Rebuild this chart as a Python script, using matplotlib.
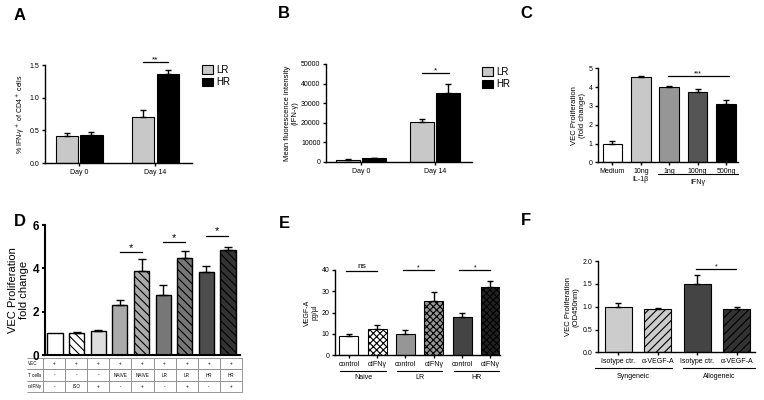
import matplotlib
matplotlib.use("Agg")
import matplotlib.pyplot as plt
from matplotlib.patches import Patch
import numpy as np

plt.rcParams['font.family'] = ['Liberation Sans', 'DejaVu Sans']
plt.rcParams['hatch.linewidth'] = 0.8

# ---- panel A: % IFN-g+ of CD4+ cells
a_groups = ["Day 0", "Day 14"]
a_lr = [0.41, 0.71]
a_lr_err = [0.05, 0.10]
a_hr = [0.43, 1.36]
a_hr_err = [0.05, 0.07]

# ---- panel B: MFI IFN-g
b_groups = ["Day 0", "Day 14"]
b_lr = [1200, 20300]
b_lr_err = [300, 1800]
b_hr = [1800, 35400]
b_hr_err = [300, 4200]

# ---- panel C: VEC proliferation vs stimulus
c_labels = ["Medium", "10ng\nIL-1β", "1ng", "100ng", "500ng"]
c_vals = [1.0, 4.53, 4.02, 3.76, 3.13]
c_err = [0.16, 0.04, 0.07, 0.13, 0.17]
c_colors = ["white", "#c8c8c8", "#969696", "#555555", "black"]

# ---- panel D: VEC proliferation with T cells
d_vals = [1.0, 1.0, 1.1, 2.31, 3.88, 2.75, 4.46, 3.82, 4.85]
d_err = [0.0, 0.07, 0.07, 0.23, 0.54, 0.48, 0.34, 0.27, 0.15]
d_colors = ["white", "white", "#dedede", "#aaaaaa", "#aaaaaa",
            "#777777", "#777777", "#4d4d4d", "#333333"]
d_hatch = ["", "\\\\\\\\", "", "", "\\\\\\\\", "", "\\\\\\\\", "", "\\\\\\\\"]
d_rows = ["VEC", "T cells", "α-IFNγ"]
d_vec = ["+"] * 9
d_tcells = ["-", "-", "-", "NAIVE", "NAIVE", "LR", "LR", "HR", "HR"]
d_aifn = ["-", "ISO", "+", "-", "+", "-", "+", "-", "+"]
d_sig_y = [4.74, 5.2, 5.5]

# ---- panel E: VEGF-A
e_labels = ["control", "αIFNγ"] * 3
e_groups = ["Naive", "LR", "HR"]
e_vals = [9.0, 12.2, 9.8, 25.4, 18.0, 32.2]
e_err = [1.1, 1.8, 2.1, 4.2, 1.8, 2.7]
e_colors = ["white", "white", "#969696", "#969696", "#444444", "#222222"]
e_hatch = ["", "xxxxx", "", "xxxxx", "", "xxxxx"]
e_sig = ["ns", "*", "*"]

# ---- panel F: VEC proliferation OD450
f_labels = ["Isotype ctr.", "α-VEGF-A", "Isotype ctr.", "α-VEGF-A"]
f_groups = ["Syngeneic", "Allogeneic"]
f_vals = [1.0, 0.94, 1.5, 0.94]
f_err = [0.09, 0.04, 0.2, 0.05]
f_colors = ["#cccccc", "#cccccc", "#444444", "#333333"]
f_hatch = ["", "////", "", "////"]


def style(ax, lw=1.0, fs=5):
    for s in ["top", "right"]:
        ax.spines[s].set_visible(False)
    for s in ["left", "bottom"]:
        ax.spines[s].set_linewidth(lw)
    ax.tick_params(direction="out", length=2.5, width=lw, labelsize=fs, pad=1.5)


def up_err(ax, x, vals, err, cap=2.5):
    ax.errorbar(x, vals, yerr=[np.zeros(len(err)), err], fmt="none",
                ecolor="black", elinewidth=1, capsize=cap, capthick=1, zorder=3)


def sig(ax, x0, x1, y, text, fs=6, off=0.5):
    ax.plot([x0, x1], [y, y], color="black", lw=0.9, clip_on=False)
    ax.annotate(text, ((x0 + x1) / 2, y), xytext=(0, off), textcoords="offset points",
                ha="center", va="baseline", fontsize=fs, annotation_clip=False)


def under_line(ax, x0, x1, y, text, ty, fs=5):
    tr = ax.get_xaxis_transform()
    ax.plot([x0, x1], [y, y], color="black", lw=0.8, transform=tr, clip_on=False)
    ax.text((x0 + x1) / 2, ty, text, transform=tr, ha="center", va="center", fontsize=fs)


fig = plt.figure(figsize=(7.64, 4.0), dpi=100)

# ---------------- A
ax = fig.add_axes([0.0589, 0.5925, 0.1924, 0.245])
x = np.arange(len(a_groups))
ax.bar(x - 0.16, a_lr, 0.29, color="#c8c8c8", edgecolor="black", lw=0.8, label="LR")
ax.bar(x + 0.16, a_hr, 0.29, color="black", edgecolor="black", lw=0.8, label="HR")
up_err(ax, x - 0.16, a_lr, a_lr_err)
up_err(ax, x + 0.16, a_hr, a_hr_err)
ax.set_xlim(-0.45, 1.48)
ax.set_ylim(0, 1.5)
ax.set_yticks([0.0, 0.5, 1.0, 1.5])
ax.set_xticks(x, a_groups)
ax.set_ylabel("% IFN-γ$^+$ of CD4$^+$ cells", fontsize=5, labelpad=2)
style(ax)
sig(ax, 0.835, 1.165, 1.55, "**")
ax.legend(handles=[Patch(facecolor="#c8c8c8", edgecolor="black", lw=0.8, label="LR"),
                   Patch(facecolor="black", edgecolor="black", lw=0.8, label="HR")],
          loc="upper left", bbox_to_anchor=(1.07, 1.0), frameon=False, fontsize=7,
          handlelength=1.15, handleheight=0.95, borderpad=0, borderaxespad=0,
          handletextpad=0.3, labelspacing=0.25)

# ---------------- B
ax = fig.add_axes([0.4267, 0.595, 0.1911, 0.245])
x = np.arange(len(b_groups))
ax.bar(x - 0.175, b_lr, 0.32, color="#c8c8c8", edgecolor="black", lw=0.8)
ax.bar(x + 0.175, b_hr, 0.32, color="black", edgecolor="black", lw=0.8)
up_err(ax, x - 0.175, b_lr, b_lr_err)
up_err(ax, x + 0.175, b_hr, b_hr_err)
ax.set_xlim(-0.47, 1.5)
ax.set_ylim(0, 50000)
ax.set_yticks(range(0, 50001, 10000))
ax.set_xticks(x, b_groups)
ax.set_ylabel("Mean fluorescence intensity\n(IFN-γ)", fontsize=5.5, labelpad=2, linespacing=1.1)
style(ax)
sig(ax, 0.82, 1.19, 45400, "*")
ax.legend(handles=[Patch(facecolor="#c8c8c8", edgecolor="black", lw=0.8, label="LR"),
                   Patch(facecolor="black", edgecolor="black", lw=0.8, label="HR")],
          loc="upper left", bbox_to_anchor=(1.07, 0.97), frameon=False, fontsize=7,
          handlelength=1.15, handleheight=0.95, borderpad=0, borderaxespad=0,
          handletextpad=0.3, labelspacing=0.25)

# ---------------- C
ax = fig.add_axes([0.7827, 0.594, 0.1832, 0.235])
x = np.arange(len(c_vals))
ax.bar(x, c_vals, 0.69, color=c_colors, edgecolor="black", lw=0.8)
up_err(ax, x, c_vals, c_err)
ax.set_xlim(-0.51, 4.42)
ax.set_ylim(0, 5)
ax.set_yticks(range(0, 6))
ax.set_xticks(x, c_labels)
ax.set_ylabel("VEC Proliferation\n(fold change)", fontsize=5.5, labelpad=2, linespacing=1.1)
style(ax)
sig(ax, 1.95, 4.1, 4.6, "***", fs=5)
under_line(ax, 1.6, 4.42, -0.124, "IFNγ", -0.21)

# ---------------- D
ax = fig.add_axes([0.0589, 0.1125, 0.2552, 0.325])
x = np.arange(len(d_vals))
ax.bar(x, d_vals, 0.7, color=d_colors, edgecolor="black", lw=1.0, hatch=d_hatch)
up_err(ax, x[1:], d_vals[1:], d_err[1:], cap=3)
ax.set_xlim(-0.46, 8.55)
ax.set_ylim(0, 6)
ax.set_yticks([0, 2, 4, 6])
ax.set_xticks([])
ax.set_ylabel("VEC Proliferation\nfold change", fontsize=8, labelpad=3, linespacing=1.1)
style(ax, lw=1.5, fs=8.5)
for t in ax.get_yticklabels():
    t.set_fontweight("bold")
for i, y in zip([3, 5, 7], d_sig_y):
    sig(ax, i, i + 1, y, "*", fs=8, off=1)
cells = [[lab] + vals for lab, vals in zip(d_rows, [d_vec, d_tcells, d_aifn])]
tab = ax.table(cellText=cells, colWidths=[16] + [22] * 9, cellLoc="center",
               bbox=[-0.0923, -0.2846, 1.1026, 0.2615])
tab.auto_set_font_size(False)
tab.set_fontsize(3.3)
for (r, c), cell in tab.get_celld().items():
    cell.set_edgecolor("#888888")
    cell.set_linewidth(0.6)
    if c == 0:
        cell.visible_edges = "TBR"
        cell._loc = "left"
        cell.get_text().set_ha("left")
        cell.PAD = 0.05

# ---------------- E
ax = fig.add_axes([0.4385, 0.1125, 0.216, 0.2125])
x = np.arange(len(e_vals))
ax.bar(x, e_vals, 0.67, color=e_colors, edgecolor="black", lw=0.8, hatch=e_hatch)
up_err(ax, x, e_vals, e_err)
ax.set_xlim(-0.49, 5.34)
ax.set_ylim(0, 40)
ax.set_yticks(range(0, 41, 10))
ax.set_xticks(x, e_labels)
ax.set_ylabel("VEGF-A\npg/µl", fontsize=5, labelpad=2, linespacing=1.1)
style(ax)
for g, (name, s) in enumerate(zip(e_groups, e_sig)):
    c0 = 2 * g
    if s == "ns":
        ax.plot([c0 - 0.1, c0 + 1.0], [39.5, 39.5], color="black", lw=0.9, clip_on=False)
        ax.text(c0 + 0.45, 39.8, s, ha="center", va="bottom", fontsize=6)
    else:
        sig(ax, c0 - 0.1, c0 + 1.0, 40, s, fs=5)
    under_line(ax, c0 + 0.5 - 0.8, c0 + 0.5 + 0.8, -0.188, name, -0.27)

# ---------------- F
ax = fig.add_axes([0.7827, 0.119, 0.2055, 0.2285])
x = np.arange(len(f_vals))
ax.bar(x, f_vals, 0.68, color=f_colors, edgecolor="black", lw=0.8, hatch=f_hatch)
up_err(ax, x, f_vals, f_err)
ax.set_xlim(-0.51, 3.46)
ax.set_ylim(0, 2.0)
ax.set_yticks([0.0, 0.5, 1.0, 1.5, 2.0])
ax.set_xticks(x, f_labels)
ax.set_ylabel("VEC Proliferation\n(OD450nm)", fontsize=5.5, labelpad=2, linespacing=1.1)
style(ax)
sig(ax, 1.98, 2.98, 1.83, "*", fs=5)
under_line(ax, -0.59, 1.36, -0.172, f_groups[0], -0.26)
under_line(ax, 1.63, 3.46, -0.172, f_groups[1], -0.26)

# panel letters
for lab, px, py in [("A", 20, 15), ("B", 284, 14), ("C", 526, 14),
                    ("D", 20, 221), ("E", 284, 223), ("F", 526, 220)]:
    fig.text(px / 764, 1 - py / 400, lab, fontsize=12, fontweight="bold",
             ha="center", va="center")

fig.savefig("out.png", dpi=100)
